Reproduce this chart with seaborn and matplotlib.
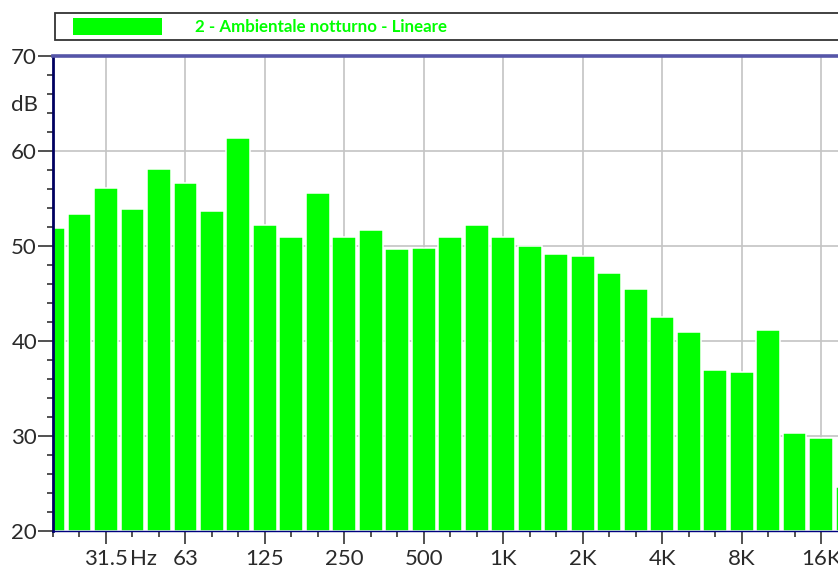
import matplotlib
matplotlib.use("Agg")
import matplotlib.pyplot as plt
from matplotlib.patches import Rectangle
import seaborn as sns
import pandas as pd

bands = ["20", "25", "31.5", "40", "50", "63", "80", "100", "125", "160",
         "200", "250", "315", "400", "500", "630", "800", "1K", "1.25K", "1.6K",
         "2K", "2.5K", "3.15K", "4K", "5K", "6.3K", "8K", "10K", "12.5K", "16K", "20K"]
levels = [51.9, 53.4, 56.1, 53.9, 58.1, 56.6, 53.7, 61.4, 52.2, 50.9,
          55.6, 51.0, 51.7, 49.7, 49.8, 50.9, 52.2, 50.9, 50.0, 49.2,
          48.9, 47.2, 45.5, 42.5, 40.9, 36.9, 36.7, 41.2, 30.3, 29.8, 24.6]
major_labels = ["31.5", "63", "125", "250", "500", "1K", "2K", "4K", "8K", "16K"]
y_ticks = [20, 30, 40, 50, 60, 70]
legend_label = "2 - Ambientale notturno - Lineare"

sns.set_theme(style="white")
plt.rcParams["font.family"] = ["Lato", "DejaVu Sans"]

df = pd.DataFrame({"pos": list(range(len(bands))), "band": bands, "level": levels})
df["height"] = df["level"] - 20

fig = plt.figure(figsize=(8.38, 5.70), dpi=100)
ax = fig.add_axes([53 / 838, 1 - 531 / 570, 1 - 53 / 838, (531 - 56) / 570])

sns.barplot(data=df, x="pos", y="height", bottom=20, native_scale=True,
            color="#00ff00", saturation=1, width=0.9, edgecolor="white",
            linewidth=1.1, ax=ax, zorder=3)

# gridlines
major_idx = [bands.index(b) for b in major_labels]
for i in major_idx:
    ax.axvline(i, color="#c4c4c4", lw=1.2, zorder=1)
for y in [30, 40, 50, 60]:
    ax.axhline(y, color="#c4c4c4", lw=1.2, zorder=1)

TXT = "#2a2a2a"
FS = 16
ax.set_xticks(major_idx)
ax.set_xticklabels(major_labels)
ax.set_xticks([i for i in range(len(bands)) if i not in major_idx], minor=True)
ax.set_yticks(y_ticks)
ax.set_yticks(list(range(20, 71, 2)), minor=True)
ax.tick_params(axis="x", which="major", length=9.5, width=1.2, color="#333333",
               labelsize=FS, labelcolor=TXT, pad=3.5, direction="out", bottom=True)
ax.tick_params(axis="x", which="minor", length=4.5, width=1.2, color="#333333",
               direction="out", bottom=True)
ax.tick_params(axis="y", which="major", length=11, width=1.2, color="#333333",
               labelsize=FS, labelcolor=TXT, pad=0.5, direction="out", left=True)
ax.tick_params(axis="y", which="minor", length=4.5, width=1.2, color="#333333",
               direction="out", left=True)
ax.set_xlabel("")
ax.set_ylabel("")

ax.text(2.9, -0.037, "Hz", transform=ax.get_xaxis_transform(),
        ha="left", va="top", fontsize=FS, color=TXT)
ax.text(-0.019, 64.8, "dB", transform=ax.get_yaxis_transform(), ha="right", va="center",
        fontsize=FS, color=TXT)

# spines
ax.spines["top"].set_visible(True)
ax.spines["top"].set_color("#5555a8")
ax.spines["top"].set_linewidth(2.6)
ax.spines["left"].set_color("#000060")
ax.spines["left"].set_linewidth(2)
ax.spines["bottom"].set_color("#000080")
ax.spines["bottom"].set_linewidth(1)
ax.spines["right"].set_visible(False)
for s in ax.spines.values():
    s.set_zorder(5)

ax.set_ylim(20, 70)
ax.set_xlim(0, 29.64)
ax.set_autoscale_on(False)

# legend box
fig.patches.append(Rectangle((55 / 838, 1 - 40 / 570), 1.0, 27 / 570,
                             transform=fig.transFigure, facecolor="white",
                             edgecolor="#333333", linewidth=1.3))
fig.patches.append(Rectangle((73 / 838, 1 - 35 / 570), 89 / 838, 17 / 570,
                             transform=fig.transFigure, facecolor="#00ff00",
                             edgecolor="none"))
fig.text(195 / 838, 1 - 26.5 / 570, legend_label, ha="left", va="center",
         fontsize=12.2, fontweight="bold", color="#00ff00")

fig.savefig("out.png", dpi=100)
